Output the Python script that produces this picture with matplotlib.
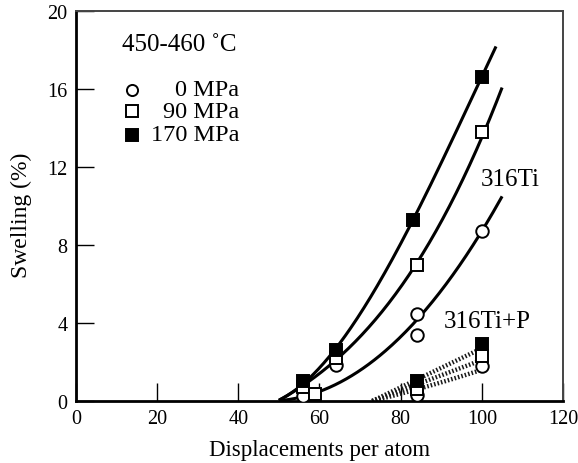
import numpy as np
import matplotlib
matplotlib.use("Agg")
import matplotlib.pyplot as plt

plt.rcParams['font.family'] = ['Liberation Serif', 'DejaVu Serif']
plt.rcParams['mathtext.fontset'] = 'stix'

# --- measured swelling data (316Ti, 450-460 C) ---
dpa_0 = [56, 64, 84, 84, 100]
sw_0 = [0.25, 1.85, 4.45, 3.4, 8.7]
dpa_90 = [56, 59, 64, 84, 100]
sw_90 = [0.7, 0.35, 2.2, 6.95, 13.8]
dpa_170 = [56, 64, 83, 100]
sw_170 = [1.05, 2.6, 9.3, 16.6]

# --- 316Ti+P ---
dpa_p0 = [84, 100]
sw_p0 = [0.3, 1.8]
dpa_p90 = [84, 100]
sw_p90 = [0.6, 2.3]
dpa_p170 = [84, 100]
sw_p170 = [1.05, 2.9]

# --- trend-curve anchor points ---
trend_170_x = [50, 56, 64, 83, 100, 103.5]
trend_170_y = [0, 1.0, 2.6, 9.3, 16.6, 18.2]
trend_90_x = [50, 56, 64, 84, 100, 105]
trend_90_y = [0, 0.8, 2.2, 6.9, 13.8, 15.9]
trend_0_x = [50, 60, 70, 84, 100, 105]
trend_0_y = [0, 0.55, 1.5, 4.2, 8.7, 10.5]

trendP_170_x = [73, 84, 100]
trendP_170_y = [0, 1.1, 2.7]
trendP_90_x = [73, 84, 100]
trendP_90_y = [0, 0.85, 2.1]
trendP_0_x = [73, 84, 100]
trendP_0_y = [0, 0.6, 1.6]

x_ticks = [0, 20, 40, 60, 80, 100, 120]
y_ticks = [0, 4, 8, 12, 16, 20]

fig = plt.figure(figsize=(5.78, 4.64), dpi=100)
ax = fig.add_axes([0.1315, 0.1336, 0.8425, 0.8405])


def smooth(xs, ys, deg):
    c = np.polyfit(xs, ys, deg)
    xx = np.linspace(xs[0], xs[-1], 200)
    return xx, np.polyval(c, xx)


for xs, ys in [(trend_170_x, trend_170_y), (trend_90_x, trend_90_y),
               (trend_0_x, trend_0_y)]:
    xx, yy = smooth(xs, ys, 3)
    ax.plot(xx, yy, color='black', lw=2.2, zorder=2, solid_capstyle='butt')

for xs, ys in [(trendP_170_x, trendP_170_y), (trendP_90_x, trendP_90_y),
               (trendP_0_x, trendP_0_y)]:
    xx, yy = smooth(xs, ys, 2)
    ax.plot(xx, yy, color='#1a1a1a', lw=3.2, ls=(0, (0.35, 0.45)), zorder=2)

ms = 9
mew = 1.4
circ = dict(marker='o', ls='none', ms=ms, mfc='white', mec='black', mew=mew, zorder=3)
osq = dict(marker='s', ls='none', ms=ms, mfc='white', mec='black', mew=mew, zorder=3)
fsq = dict(marker='s', ls='none', ms=ms, mfc='black', mec='black', mew=mew, zorder=4)

ax.plot(dpa_0, sw_0, **circ)
ax.plot(dpa_90, sw_90, **osq)
ax.plot(dpa_170, sw_170, **fsq)
ax.plot(dpa_p0, sw_p0, **circ)
ax.plot(dpa_p90, sw_p90, **osq)
ax.plot(dpa_p170, sw_p170, **fsq)

# legend drawn in data space
lx = 13.8
leg_rows = [(15.95, '0 MPa', circ), (14.85, '90 MPa', osq), (13.65, '170 MPa', fsq)]
for yv, lab, st in leg_rows:
    s = dict(st)
    s['ms'] = 8
    ax.plot([lx], [yv], **s)
    ax.text(40.2, yv, lab, ha='right', va='center', fontsize=17.5)

ax.text(25.4, 18.3, '450-460 ˚C', ha='center', va='center', fontsize=18)
ax.text(107, 11.4, '316Ti', ha='center', va='center', fontsize=18)
ax.text(101.4, 4.1, '316Ti+P', ha='center', va='center', fontsize=18)

ax.set_xlim(0, 120)
ax.set_ylim(0, 20)
ax.set_xticks(x_ticks)
ax.set_yticks(y_ticks)
ax.tick_params(direction='in', length=13, width=1.0, labelsize=14.5, pad=6,
               top=False, right=False)
ax.set_xlabel('Displacements per atom', fontsize=16.5, labelpad=8)
ax.set_ylabel('Swelling (%)', fontsize=17, labelpad=6)
ax.yaxis.set_label_coords(-0.09, 0.48)

for side in ['left', 'bottom']:
    ax.spines[side].set_linewidth(2.0)
    ax.spines[side].set_color('black')
for side in ['top', 'right']:
    ax.spines[side].set_linewidth(1.4)
    ax.spines[side].set_color('#444444')

fig.savefig('out.png', dpi=100)
